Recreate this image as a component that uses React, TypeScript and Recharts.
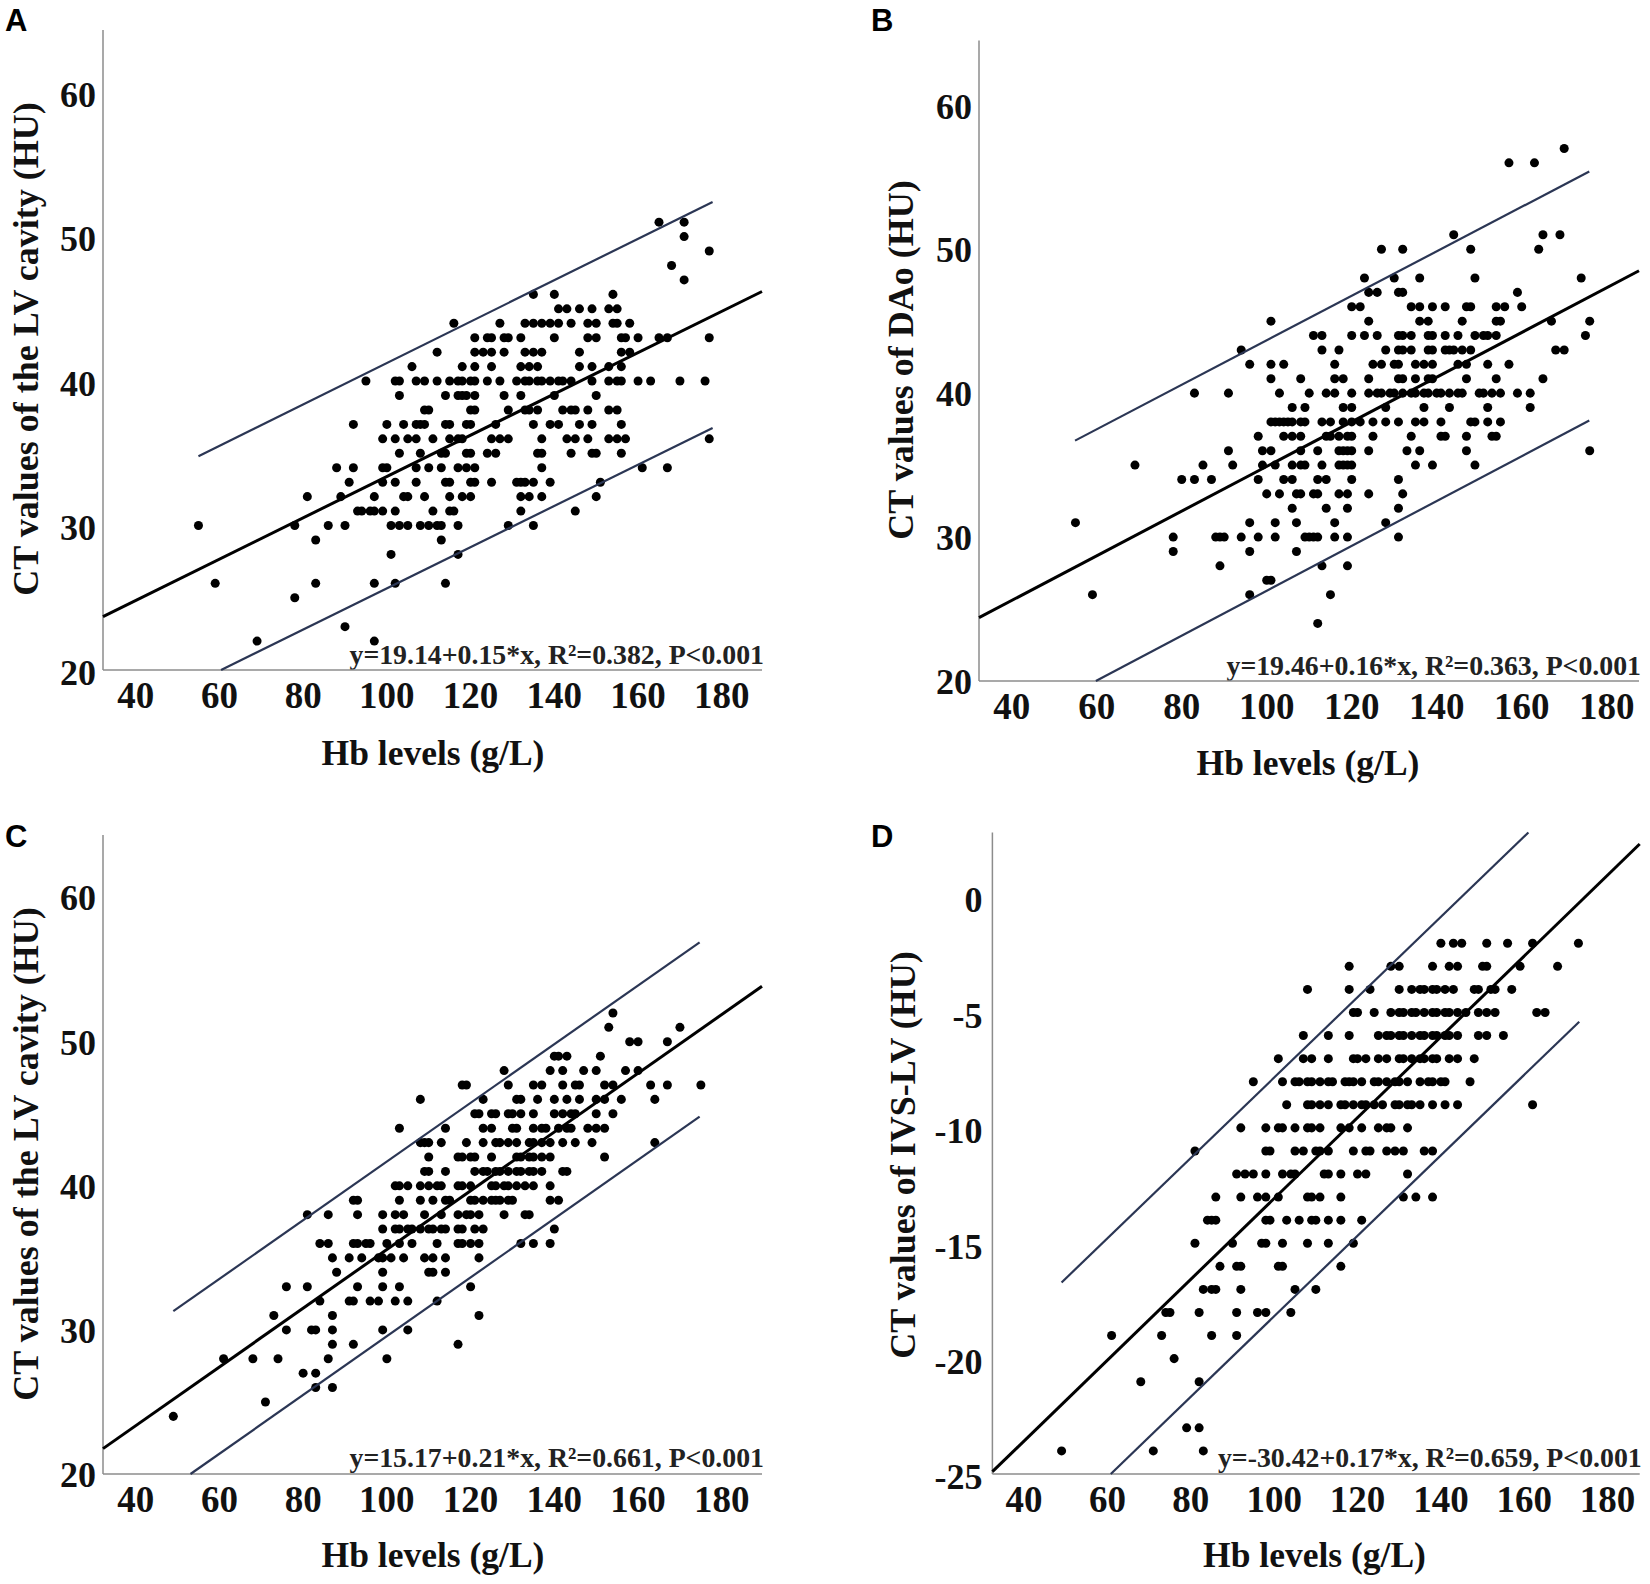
import { ScatterChart, Scatter, XAxis, YAxis, ZAxis } from 'recharts';

type Row = [number, number[]];

// dots per horizontal row: [CT value, Hb values]
const rowsA: Row[] = [
  [51, [165, 171]],
  [50, [171]],
  [49, [177]],
  [48, [168]],
  [47, [171]],
  [46, [135, 140, 154]],
  [45, [141, 143, 146, 149, 153, 155]],
  [44, [116, 127, 133, 135, 137, 139, 141, 144, 148, 150, 154, 155, 158]],
  [43, [121, 124, 125, 128, 129, 132, 140, 148, 150, 156, 157, 160, 165, 167, 177]],
  [42, [112, 121, 123, 125, 128, 133, 135, 137, 146, 156, 158]],
  [41, [106, 118, 121, 125, 132, 134, 136, 146, 149, 153, 156]],
  [40, [95, 102, 103, 107, 109, 112, 115, 117, 118, 120, 121, 124, 127, 131, 133, 134, 136, 137, 139, 141, 142, 144, 149, 153, 155, 156, 160, 163, 170, 176]],
  [39, [103, 114, 117, 118, 119, 121, 128, 132, 140, 150]],
  [38, [109, 110, 120, 121, 129, 133, 134, 136, 142, 144, 145, 148, 153, 155]],
  [37, [92, 100, 104, 107, 108, 109, 114, 115, 119, 120, 126, 135, 139, 141, 146, 149, 156]],
  [36, [99, 102, 105, 107, 111, 115, 117, 118, 125, 127, 129, 137, 143, 145, 148, 153, 155, 157, 177]],
  [35, [103, 108, 113, 114, 119, 120, 124, 126, 136, 137, 144, 149, 150, 156]],
  [34, [88, 92, 99, 100, 107, 110, 113, 117, 119, 121, 137, 161, 167]],
  [33, [91, 99, 102, 107, 114, 115, 120, 121, 125, 131, 132, 133, 135, 139, 151]],
  [32, [81, 89, 97, 104, 105, 109, 115, 118, 120, 132, 134, 137, 150]],
  [31, [93, 94, 96, 97, 99, 102, 111, 115, 116, 132, 145]],
  [30, [55, 78, 86, 90, 101, 103, 105, 108, 110, 112, 113, 117, 129, 135]],
  [29, [83, 113]],
  [28, [101, 117]],
  [26, [59, 83, 97, 102, 114]],
  [25, [78]],
  [23, [90]],
  [22, [69, 97]],
];

const rowsB: Row[] = [
  [57, [170]],
  [56, [157, 163]],
  [51, [144, 165, 169]],
  [50, [127, 132, 148, 164]],
  [48, [123, 130, 136, 149, 174]],
  [47, [124, 126, 131, 132, 159]],
  [46, [120, 122, 134, 136, 139, 142, 147, 148, 154, 156, 160]],
  [45, [101, 124, 136, 138, 146, 154, 155, 167, 176]],
  [44, [111, 113, 120, 123, 126, 131, 132, 134, 138, 139, 142, 145, 149, 151, 152, 154, 175]],
  [43, [94, 113, 117, 128, 131, 132, 134, 138, 139, 142, 143, 144, 146, 148, 168, 170]],
  [42, [96, 101, 104, 116, 125, 127, 130, 131, 135, 137, 139, 145, 147, 152, 157]],
  [41, [101, 108, 116, 118, 124, 131, 132, 135, 138, 139, 147, 154, 165]],
  [40, [83, 91, 103, 110, 114, 116, 120, 124, 126, 127, 129, 130, 132, 134, 135, 137, 138, 140, 141, 143, 145, 146, 150, 151, 153, 155, 159, 162]],
  [39, [106, 109, 118, 120, 128, 137, 143, 152, 162]],
  [38, [101, 102, 103, 104, 105, 106, 108, 109, 113, 115, 118, 120, 122, 125, 128, 131, 135, 137, 141, 148, 149, 152, 155]],
  [37, [98, 104, 106, 108, 114, 115, 117, 119, 120, 125, 134, 141, 142, 147, 153, 154]],
  [36, [91, 99, 101, 108, 112, 117, 118, 119, 120, 124, 133, 136, 147, 176]],
  [35, [69, 85, 92, 99, 102, 106, 108, 109, 113, 117, 118, 119, 120, 135, 139, 149]],
  [34, [80, 83, 87, 98, 104, 106, 112, 114, 120, 131]],
  [33, [100, 103, 107, 108, 111, 112, 117, 119, 124, 132]],
  [32, [106, 114, 119, 131]],
  [31, [55, 96, 102, 107, 116, 128]],
  [30, [78, 88, 89, 90, 94, 98, 102, 109, 110, 111, 112, 116, 119, 131]],
  [29, [78, 96, 107]],
  [28, [89, 113, 119]],
  [27, [100, 101]],
  [26, [59, 96, 115]],
  [24, [112]],
];

const rowsC: Row[] = [
  [52, [154]],
  [51, [153, 170]],
  [50, [158, 160, 167]],
  [49, [140, 141, 143, 151]],
  [48, [128, 139, 142, 147, 150, 157, 160]],
  [47, [118, 119, 129, 135, 137, 142, 145, 146, 152, 154, 163, 167, 175]],
  [46, [108, 123, 131, 132, 136, 140, 143, 146, 150, 152, 156, 164]],
  [45, [121, 122, 125, 126, 129, 130, 132, 135, 140, 142, 144, 145, 150, 154]],
  [44, [103, 114, 123, 125, 130, 131, 135, 137, 138, 141, 143, 144, 148, 150, 152]],
  [43, [108, 109, 110, 113, 119, 123, 126, 127, 129, 131, 134, 135, 137, 139, 142, 145, 149, 164]],
  [42, [110, 117, 118, 120, 121, 125, 131, 132, 134, 135, 137, 139, 152]],
  [41, [109, 110, 114, 121, 123, 124, 126, 127, 129, 131, 132, 134, 135, 137, 142, 143]],
  [40, [102, 103, 105, 108, 110, 112, 113, 117, 118, 120, 125, 126, 128, 129, 131, 133, 135, 139]],
  [39, [92, 93, 103, 108, 111, 114, 115, 120, 121, 123, 125, 126, 127, 129, 130, 139, 141]],
  [38, [81, 86, 93, 99, 102, 104, 109, 113, 117, 119, 120, 122, 128, 133, 134]],
  [37, [99, 102, 103, 105, 106, 108, 110, 111, 113, 114, 117, 118, 121, 123, 140]],
  [36, [84, 86, 92, 93, 95, 96, 100, 103, 106, 112, 117, 118, 120, 122, 132, 135, 139]],
  [35, [87, 91, 94, 98, 99, 101, 104, 109, 111, 114, 122]],
  [34, [88, 99, 110, 111, 114]],
  [33, [76, 81, 93, 99, 103, 120]],
  [32, [84, 91, 92, 96, 98, 102, 105, 112]],
  [31, [73, 87, 122]],
  [30, [76, 82, 83, 87, 99, 105]],
  [29, [87, 92, 117]],
  [28, [61, 68, 74, 86, 100]],
  [27, [80, 83]],
  [26, [83, 87]],
  [25, [71]],
  [24, [49]],
];

const rowsD: Row[] = [
  [-2, [140, 143, 145, 151, 156, 162, 173]],
  [-3, [118, 128, 130, 138, 142, 144, 150, 151, 159, 168]],
  [-4, [108, 118, 123, 130, 133, 135, 136, 138, 139, 141, 143, 148, 149, 152, 153, 157]],
  [-5, [119, 120, 124, 128, 130, 131, 133, 134, 136, 138, 139, 141, 142, 144, 146, 149, 151, 153, 163, 165]],
  [-6, [107, 113, 118, 125, 127, 128, 130, 131, 133, 135, 136, 138, 139, 141, 142, 144, 149, 151, 155]],
  [-7, [101, 107, 109, 113, 119, 120, 122, 125, 127, 130, 131, 133, 135, 136, 138, 139, 142, 144, 148]],
  [-8, [95, 102, 105, 106, 108, 109, 111, 113, 114, 117, 118, 119, 121, 124, 125, 127, 129, 130, 132, 135, 137, 138, 140, 141, 147]],
  [-9, [103, 108, 109, 111, 113, 116, 117, 119, 121, 122, 124, 126, 129, 130, 132, 133, 135, 138, 141, 144, 162]],
  [-10, [92, 98, 101, 102, 105, 108, 109, 111, 116, 118, 121, 125, 127, 128, 132]],
  [-11, [81, 98, 99, 105, 107, 110, 111, 113, 119, 122, 123, 127, 129, 131, 136, 138]],
  [-12, [91, 93, 95, 98, 102, 104, 105, 112, 113, 116, 120, 122, 132]],
  [-13, [86, 92, 96, 98, 101, 108, 109, 111, 116, 131, 134, 138]],
  [-14, [84, 85, 86, 98, 99, 103, 106, 109, 110, 113, 116, 121]],
  [-15, [81, 90, 97, 98, 102, 108, 113, 119]],
  [-16, [87, 91, 92, 101, 102, 116]],
  [-17, [83, 85, 86, 92, 105, 110]],
  [-18, [74, 75, 82, 91, 96, 98, 104]],
  [-19, [61, 73, 85, 91]],
  [-20, [76]],
  [-21, [68, 82]],
  [-23, [79, 82]],
  [-24, [49, 71, 83]],
];

// fit line and the two limit lines, read as end points
const fitA = [{ x: 32.2, y: 23.7 }, { x: 189.6, y: 46.2 }];
const upperA = [{ x: 55, y: 34.8 }, { x: 177.8, y: 52.4 }];
const lowerA = [{ x: 60.4, y: 20 }, { x: 177.8, y: 36.75 }];

const fitB = [{ x: 32.3, y: 24.4 }, { x: 187.6, y: 48.5 }];
const upperB = [{ x: 54.9, y: 36.7 }, { x: 175.9, y: 55.4 }];
const lowerB = [{ x: 59.8, y: 20 }, { x: 175.9, y: 38.1 }];

const fitC = [{ x: 32.2, y: 21.76 }, { x: 189.6, y: 53.85 }];
const upperC = [{ x: 49, y: 31.3 }, { x: 174.7, y: 56.9 }];
const lowerC = [{ x: 53.1, y: 20 }, { x: 174.7, y: 44.8 }];

const fitD = [{ x: 32.4, y: -24.9 }, { x: 187.7, y: 2.3 }];
const upperD = [{ x: 49, y: -16.7 }, { x: 161, y: 2.8 }];
const lowerD = [{ x: 60.8, y: -25 }, { x: 173.2, y: -5.4 }];

const xTicks = [40, 60, 80, 100, 120, 140, 160, 180];
const yTicks = [20, 30, 40, 50, 60];
const yTicksD = [-25, -20, -15, -10, -5, 0];

const SERIF = '"Liberation Serif", serif';
const INK = '#111';

const toPoints = (rows: Row[]) => rows.flatMap(([y, xs]) => xs.map((x) => ({ x, y })));

function Panel(props: any) {
  const { rows, fit, upper, lower, yDomain, xDomain, ticks, box, plot, tickDy, tickGap, letter, letterX, letterY, eq, eqY, yTitle, yTitleX, yTitleY, xTitleX, xTitleY } = props;
  return (
    <div style={{ position: 'absolute', left: box[0], top: box[1] }}>
      <ScatterChart width={825} height={792} margin={{ top: plot.top, right: plot.right, bottom: 0, left: 0 }}>
        <XAxis
          type="number"
          dataKey="x"
          domain={xDomain}
          ticks={xTicks}
          interval={0}
          height={plot.bottom}
          tickLine={false}
          tickMargin={6}
          axisLine={{ stroke: '#8c8c8c', strokeWidth: 1.5 }}
          tick={{ fontFamily: SERIF, fontSize: 37, fontWeight: 700, fill: INK }}
        />
        <YAxis
          type="number"
          dataKey="y"
          domain={yDomain}
          ticks={ticks}
          interval={0}
          width={plot.left}
          tickLine={false}
          tickMargin={tickGap}
          axisLine={{ stroke: '#8c8c8c', strokeWidth: 1.5 }}
          tick={{ fontFamily: SERIF, fontSize: 36, fontWeight: 700, fill: INK, dy: tickDy }}
        />
        <ZAxis range={[85, 85]} />
        <Scatter data={toPoints(rows)} fill="#000" shape="circle" isAnimationActive={false} />
        <Scatter data={upper} line={{ stroke: '#2b3654', strokeWidth: 2.2 }} shape={() => <g />} isAnimationActive={false} />
        <Scatter data={lower} line={{ stroke: '#2b3654', strokeWidth: 2.2 }} shape={() => <g />} isAnimationActive={false} />
        <Scatter data={fit} line={{ stroke: '#000', strokeWidth: 3 }} shape={() => <g />} isAnimationActive={false} />
        <text x={letterX} y={letterY} fontFamily='"Liberation Sans", sans-serif' fontWeight={700} fontSize={31} fill="#000">{letter}</text>
        <text x={827 - plot.right} y={eqY} textAnchor="end" fontFamily={SERIF} fontWeight={700} fontSize={27.8} fill="#222">{eq}</text>
        <text x={xTitleX} y={xTitleY} textAnchor="middle" fontFamily={SERIF} fontWeight={700} fontSize={35.5} fill={INK}>Hb levels (g/L)</text>
        <text transform={`translate(${yTitleX},${yTitleY}) rotate(-90)`} textAnchor="middle" fontFamily={SERIF} fontWeight={700} fontSize={36} fill={INK}>{yTitle}</text>
      </ScatterChart>
    </div>
  );
}

export default function App() {
  return (
    <div style={{ position: 'absolute', left: 0, top: 0, width: 1650, height: 1584, background: '#fff', overflow: 'hidden' }}>
      <Panel
        rows={rowsA} fit={fitA} upper={upperA} lower={lowerA}
        box={[0, 0]} plot={{ left: 103, right: 63, top: 30, bottom: 122 }} tickDy={2} tickGap={1}
        xDomain={[32.2, 189.6]} yDomain={[20, 64.3]} ticks={yTicks}
        letter="A" letterX={5} letterY={31}
        eq="y=19.14+0.15*x, R²=0.382, P<0.001" eqY={664}
        yTitle="CT values of the LV cavity (HU)" yTitleX={38} yTitleY={349}
        xTitleX={433} xTitleY={765}
      />
      <Panel
        rows={rowsB} fit={fitB} upper={upperB} lower={lowerB}
        box={[825, 0]} plot={{ left: 154, right: 11, top: 40.5, bottom: 111 }} tickDy={0.5} tickGap={1}
        xDomain={[32.3, 187.6]} yDomain={[20, 64.5]} ticks={yTicks}
        letter="B" letterX={46} letterY={31}
        eq="y=19.46+0.16*x, R²=0.363, P<0.001" eqY={675}
        yTitle="CT values of DAo (HU)" yTitleX={88} yTitleY={360}
        xTitleX={483} xTitleY={775}
      />
      <Panel
        rows={rowsC} fit={fitC} upper={upperC} lower={lowerC}
        box={[0, 792]} plot={{ left: 103, right: 63, top: 43, bottom: 110 }} tickDy={0} tickGap={1}
        xDomain={[32.2, 189.6]} yDomain={[20, 64.35]} ticks={yTicks}
        letter="C" letterX={5} letterY={55}
        eq="y=15.17+0.21*x, R²=0.661, P<0.001" eqY={675}
        yTitle="CT values of the LV cavity (HU)" yTitleX={38} yTitleY={362}
        xTitleX={433} xTitleY={775}
      />
      <Panel
        rows={rowsD} fit={fitD} upper={upperD} lower={lowerD}
        box={[825, 792]} plot={{ left: 167.4, right: 10.3, top: 40.5, bottom: 110 }} tickDy={2.5} tickGap={4}
        xDomain={[32.4, 187.7]} yDomain={[-25, 2.8]} ticks={yTicksD}
        letter="D" letterX={46} letterY={55}
        eq="y=-30.42+0.17*x, R²=0.659, P<0.001" eqY={675}
        yTitle="CT values of IVS-LV (HU)" yTitleX={90} yTitleY={363}
        xTitleX={489.5} xTitleY={775}
      />
    </div>
  );
}
